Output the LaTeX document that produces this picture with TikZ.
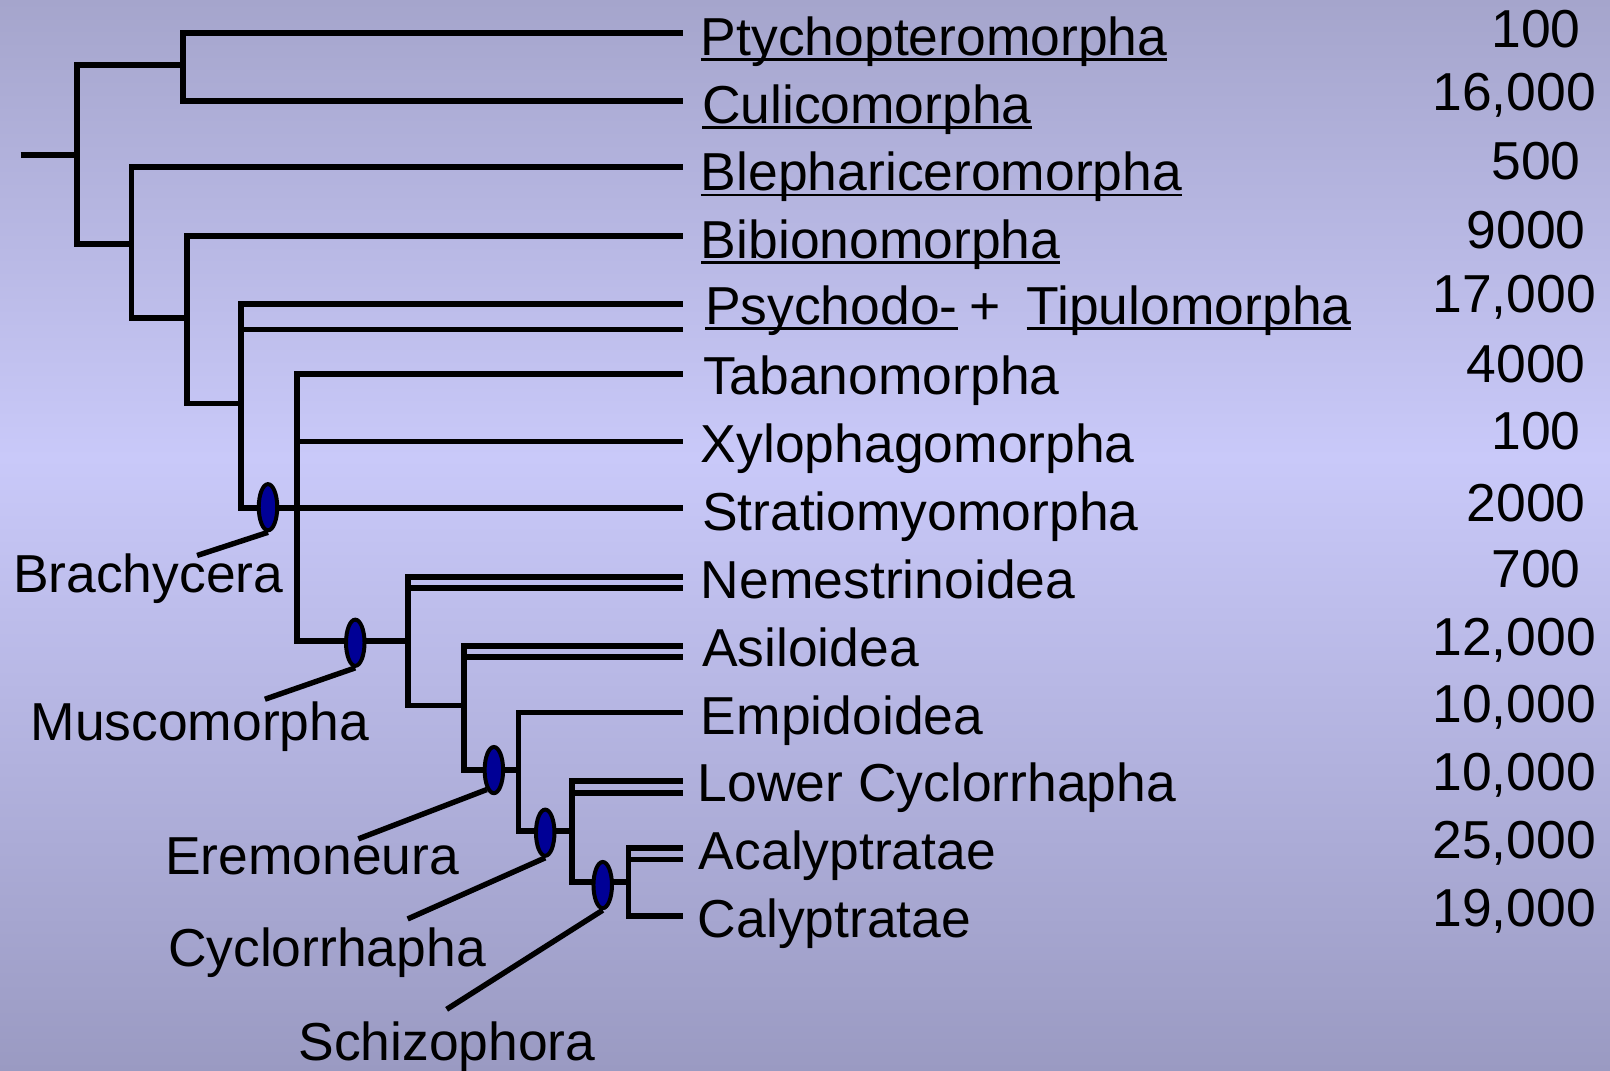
\documentclass[tikz,border=0pt]{standalone}
\usepackage{fontspec}
\setmainfont{Liberation Sans}
\usetikzlibrary{shapes.geometric}

\definecolor{bgtop}{RGB}{165,165,204}
\definecolor{bgmid}{RGB}{201,201,249}
\definecolor{bgbot}{RGB}{154,154,194}
\definecolor{markblue}{RGB}{0,0,150}

\newcommand{\ulin}[1]{\setbox0\hbox{#1}\rlap{\rule[-0.1em]{\wd0}{0.05em}}\box0}

\begin{document}
\begin{tikzpicture}[x=0.01cm, y=-0.01cm,
        font=\fontsize{14.8pt}{17pt}\selectfont,
        branch/.style={line width=1.6pt, line join=miter},
        pointer/.style={line width=1.5pt},
        clademark/.style={ellipse, draw=black, line width=1.1pt, fill=markblue,
            minimum width=0.18cm, minimum height=0.45cm, inner sep=0pt},
        taxon/.style={anchor=base west, inner sep=0pt},
        count/.style={anchor=base east, inner sep=0pt}]

            \useasboundingbox (0,0) rectangle (1568,1043);
            \shade[top color=bgtop, bottom color=bgmid] (0,0) rectangle (1568,446);
            \shade[top color=bgmid, bottom color=bgbot] (0,445) rectangle (1568,1043);

            \coordinate (t1) at (665,32);
            \coordinate (t2) at (665,98);
            \coordinate (t3) at (665,163);
            \coordinate (t4) at (665,230);
            \coordinate (t5a) at (665,296);
            \coordinate (t5b) at (665,321);
            \coordinate (t6) at (665,364);
            \coordinate (t7) at (665,430);
            \coordinate (t8) at (665,495);
            \coordinate (t9a) at (665,562);
            \coordinate (t9b) at (665,573);
            \coordinate (t10a) at (665,629);
            \coordinate (t10b) at (665,640);
            \coordinate (t11) at (665,694);
            \coordinate (t12a) at (665,761);
            \coordinate (t12b) at (665,772);
            \coordinate (t13a) at (665,826);
            \coordinate (t13b) at (665,837);
            \coordinate (t14) at (665,892);

            \coordinate (base) at (20,151);
            \coordinate (root) at (75,151);
            \coordinate (ptyc) at (178,63);
            \coordinate (blep) at (128,238);
            \coordinate (bibi) at (182,310);
            \coordinate (psyc) at (235,393);
            \coordinate (brac) at (289,495);
            \coordinate (musc) at (397,624);
            \coordinate (asil) at (452,687);
            \coordinate (erem) at (505,750);
            \coordinate (cycl) at (557,809);
            \coordinate (schi) at (612,859);

            \draw[branch] (base) -- (root);
            \draw[branch] (root) |- (ptyc);
            \draw[branch] (root) |- (blep);
            \draw[branch] (ptyc) |- (t1);
            \draw[branch] (ptyc) |- (t2);
            \draw[branch] (blep) |- (t3);
            \draw[branch] (blep) |- (bibi);
            \draw[branch] (bibi) |- (t4);
            \draw[branch] (bibi) |- (psyc);
            \draw[branch] (psyc) |- (t5a);
            \draw[branch] (psyc) |- (t5b);
            \draw[branch] (psyc) |- (brac);
            \draw[branch] (brac) |- (t6);
            \draw[branch] (brac) |- (t7);
            \draw[branch] (brac) |- (t8);
            \draw[branch] (brac) |- (musc);
            \draw[branch] (musc) |- (t9a);
            \draw[branch] (musc) |- (t9b);
            \draw[branch] (musc) |- (asil);
            \draw[branch] (asil) |- (t10a);
            \draw[branch] (asil) |- (t10b);
            \draw[branch] (asil) |- (erem);
            \draw[branch] (erem) |- (t11);
            \draw[branch] (erem) |- (cycl);
            \draw[branch] (cycl) |- (t12a);
            \draw[branch] (cycl) |- (t12b);
            \draw[branch] (cycl) |- (schi);
            \draw[branch] (schi) |- (t13a);
            \draw[branch] (schi) |- (t13b);
            \draw[branch] (schi) |- (t14);

            \node[clademark] (mBrac) at (261,494) {};
            \node[clademark] (mMusc) at (346,626) {};
            \node[clademark] (mErem) at (481,750) {};
            \node[clademark] (mCycl) at (531,811) {};
            \node[clademark] (mSchi) at (587,862) {};

            \node[taxon] (lBrac) at (12,577) {Brachycera};
            \node[taxon] (lMusc) at (29,721) {Muscomorpha};
            \node[taxon] (lErem) at (160,852) {Eremoneura};
            \node[taxon] (lCycl) at (163,941) {Cyclorrhapha};
            \node[taxon] (lSchi) at (290,1033) {Schizophora};

            \coordinate (pBrac) at (192,541);
            \coordinate (pMusc) at (258,681);
            \coordinate (pErem) at (349,817);
            \coordinate (pCycl) at (397,895);
            \coordinate (pSchi) at (435,983);

            \draw[pointer] (pBrac) -- (mBrac.south);
            \draw[pointer] (pMusc) -- (mMusc.south);
            \draw[pointer] (pErem) -- (mErem.250);
            \draw[pointer] (pCycl) -- (mCycl.south);
            \draw[pointer] (pSchi) -- (mSchi.south);

            \node[taxon] (r1) at (682,54) {\ulin{Ptychopteromorpha}};
            \node[taxon] (r2) at (683,120) {\ulin{Culicomorpha}};
            \node[taxon] (r3) at (682,186) {\ulin{Blephariceromorpha}};
            \node[taxon] (r4) at (682,252) {\ulin{Bibionomorpha}};
            \node[taxon] (r5) at (686,316) {\ulin{Psychodo-}\hspace{0.23em}+\hspace{0.48em}\ulin{Tipulomorpha}};
            \node[taxon] (r6) at (684,384) {Tabanomorpha};
            \node[taxon] (r7) at (682,450) {Xylophagomorpha};
            \node[taxon] (r8) at (683,517) {Stratiomyomorpha};
            \node[taxon] (r9) at (682,583) {Nemestrinoidea};
            \node[taxon] (r10) at (683,649) {Asiloidea};
            \node[taxon] (r11) at (682,715) {Empidoidea};
            \node[taxon] (r12) at (679,781) {Lower Cyclorrhapha};
            \node[taxon] (r13) at (680,847) {Acalyptratae};
            \node[taxon] (r14) at (679,913) {Calyptratae};

            \node[count] (n1) at (1540,46) {100};
            \node[count] (n2) at (1555,108) {16,000};
            \node[count] (n3) at (1540,175) {500};
            \node[count] (n4) at (1545,242) {9000};
            \node[count] (n5) at (1555,304) {17,000};
            \node[count] (n6) at (1545,373) {4000};
            \node[count] (n7) at (1540,438) {100};
            \node[count] (n8) at (1545,508) {2000};
            \node[count] (n9) at (1540,572) {700};
            \node[count] (n10) at (1555,638) {12,000};
            \node[count] (n11) at (1555,704) {10,000};
            \node[count] (n12) at (1555,770) {10,000};
            \node[count] (n13) at (1555,836) {25,000};
            \node[count] (n14) at (1555,902) {19,000};

\end{tikzpicture}
\end{document}
